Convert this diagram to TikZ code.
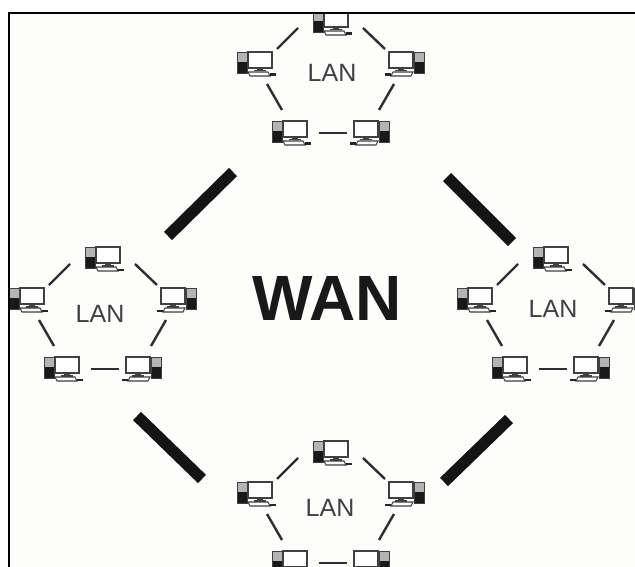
\documentclass[tikz,border=0pt]{standalone}
\usepackage{fontspec}
\setmainfont{Liberation Sans}

\definecolor{paper}{HTML}{FDFDFB}
\definecolor{pcedge}{HTML}{404040}
\definecolor{towertop}{HTML}{B4B4B4}
\definecolor{linkgray}{HTML}{2E2E2E}

\begin{document}
\begin{tikzpicture}[x=1pt, y=-1pt]

\tikzset{lanlabel/.style={shape=rectangle, inner sep=0, text=black!75, font=\fontsize{25}{25}\selectfont}}
\tikzset{wanlabel/.style={shape=rectangle, inner sep=0, text=black!90, font=\fontsize{64}{64}\selectfont\bfseries}}
\tikzset{pcbox/.style={shape=rectangle, inner sep=0, minimum width=39, minimum height=24}}
\tikzset{link/.style={color=linkgray, line width=2.4}}
\tikzset{wanlink/.style={color=black!92, line width=11.5}}
\tikzset{pcline/.style={draw=pcedge, line width=1.1, fill=white}}
\tikzset{pc/.pic={
    \fill[towertop] (-18,-11) rectangle (-8,-1);
    \fill[black!90] (-18,-1) rectangle (-8,10);
    \draw[draw=pcedge, line width=0.7] (-18,-11) rectangle (-8,10);
    \draw[pcline] (-7,-11) rectangle (17,5);
    \fill[pcedge] (2,5) rectangle (8,7);
    \fill[pcedge] (-1,7) rectangle (11,8.5);
    \draw[pcline] (-7,9) -- (-5,13) -- (15,13) -- (13,9) -- cycle;
    \fill[black!85] (15,10.5) rectangle (21,13);
}}
\tikzset{lan/.pic={
    \node[pcbox] (-top) at (0.5,-41) {};
    \node[pcbox] (-left) at (-75.5,0) {};
    \node[pcbox] (-right) at (75.5,0) {};
    \node[pcbox] (-lowleft) at (-40.5,69) {};
    \node[pcbox] (-lowright) at (40.5,69) {};
    \pic at (0.5,-41) {pc};
    \pic at (-75.5,0) {pc};
    \pic[xscale=-1] at (75.5,0) {pc};
    \pic at (-40.5,69) {pc};
    \pic[xscale=-1] at (40.5,69) {pc};
    \draw[link] ([shift={(22,-14)}]-left.center) -- ([shift={(-33,6)}]-top.center);
    \draw[link] ([shift={(32,6)}]-top.center) -- ([shift={(-21,-14)}]-right.center);
    \draw[link] ([shift={(12,21)}]-left.center) -- ([shift={(-8,-22)}]-lowleft.center);
    \draw[link] ([shift={(-12,21)}]-right.center) -- ([shift={(8,-22)}]-lowright.center);
    \draw[link] ([shift={(29,1)}]-lowleft.center) -- ([shift={(-24,1)}]-lowright.center);
}}

\useasboundingbox (0,0) rectangle (635,567);
\fill[paper] (9,13.5) rectangle (635,567);

\begin{scope}
\clip (9,13.5) rectangle (635,567);
\pic (lantop) at (330.5,63) {lan};
\pic (lanleft) at (102.5,299) {lan};
\pic (lanright) at (550.5,299) {lan};
\pic (lanbottom) at (330.5,493) {lan};
\end{scope}

\draw[black, line width=2] (9,567) -- (9,13.5) -- (635,13.5);

\node[lanlabel] (labeltop) at (332,73) {LAN};
\node[lanlabel] (labelleft) at (100,314) {LAN};
\node[lanlabel] (labelright) at (553,309) {LAN};
\node[lanlabel] (labelbottom) at (330,508) {LAN};
\node[wanlabel] (wan) at (327.5,298.5) {WAN};

\coordinate (nwa) at (168,236);
\coordinate (nwb) at (233,172);
\coordinate (nea) at (447,177);
\coordinate (neb) at (512,242);
\coordinate (swa) at (137,416);
\coordinate (swb) at (202,479);
\coordinate (sea) at (444,482);
\coordinate (seb) at (509,419);
\draw[wanlink] (nwa) -- (nwb);
\draw[wanlink] (nea) -- (neb);
\draw[wanlink] (swa) -- (swb);
\draw[wanlink] (sea) -- (seb);

\end{tikzpicture}
\end{document}
